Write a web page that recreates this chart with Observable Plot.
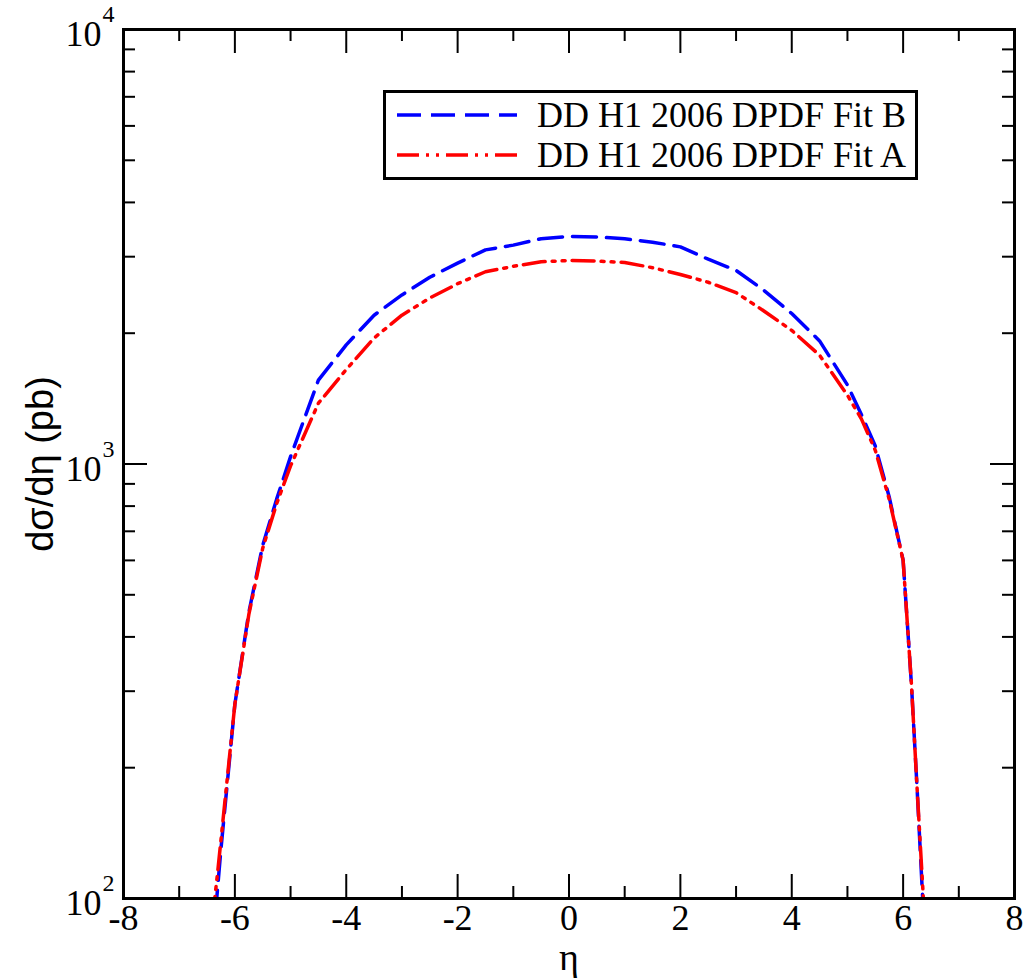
<!DOCTYPE html>
<html>
<head>
<meta charset="utf-8">
<script src="https://cdn.jsdelivr.net/npm/d3@7"></script>
<script src="https://cdn.jsdelivr.net/npm/@observablehq/plot@0.6"></script>
<style>
  body { margin: 0; background: #fff; }
  #wrap { position: relative; width: 1026px; height: 978px; }
</style>
</head>
<body>
<div id="wrap"></div>
<script>
// ---- data ----
const etaB = [-6.35, -6.25, -6.0, -5.75, -5.5, -5.25, -5.0, -4.5, -4.0, -3.5, -3.0, -2.5, -2.0, -1.5, -1.0, -0.5, 0, 0.5, 1.0, 1.5, 2.0, 2.5, 3.0, 3.5, 4.0, 4.5, 5.0, 5.25, 5.5, 5.75, 6.0, 6.15, 6.25, 6.36];
const fitB = [92, 130, 280, 455, 650, 830, 1040, 1560, 1880, 2200, 2450, 2690, 2900, 3110, 3190, 3300, 3340, 3330, 3300, 3240, 3160, 2960, 2790, 2510, 2220, 1920, 1520, 1300, 1100, 840, 600, 310, 180, 95];
const etaA = [-6.4, -6.3, -6.0, -5.75, -5.5, -5.25, -5.0, -4.5, -4.0, -3.5, -3.0, -2.5, -2.0, -1.5, -1.0, -0.5, 0, 0.5, 1.0, 1.5, 2.0, 2.5, 3.0, 3.5, 4.0, 4.5, 5.0, 5.25, 5.5, 5.75, 6.0, 6.15, 6.25, 6.38];
const fitA = [90, 118, 280, 450, 640, 810, 990, 1380, 1650, 1950, 2200, 2410, 2600, 2770, 2850, 2920, 2940, 2930, 2910, 2830, 2730, 2620, 2480, 2250, 2030, 1780, 1440, 1270, 1075, 830, 600, 310, 180, 92];
const seriesNames = ["DD H1 2006 DPDF Fit B", "DD H1 2006 DPDF Fit A"];
const xMajor = [-8, -6, -4, -2, 0, 2, 4, 6, 8];
const xMinor = [-7, -5, -3, -1, 1, 3, 5, 7];
const yMajor = [100, 1000, 10000];
const yMinor = [200, 300, 400, 500, 600, 700, 800, 900, 2000, 3000, 4000, 5000, 6000, 7000, 8000, 9000];
const xLabel = "η";
const yLabel = "dσ/dη (pb)";

const dataB = etaB.map((x, i) => ({x, y: fitB[i]}));
const dataA = etaA.map((x, i) => ({x, y: fitA[i]}));

const W = 1026, H = 978, mL = 123, mR = 12, mT = 29, mB = 80;
const iW = W - mL - mR, iH = H - mT - mB;
const serif = "Liberation Serif, Times New Roman, serif";
const sans = "Liberation Sans, Arial, sans-serif";
const blueDash = "24,10";
const redDash = "22,7,3,7,3,7";

const plot = Plot.plot({
  width: W, height: H,
  marginLeft: mL, marginRight: mR, marginTop: mT, marginBottom: mB,
  style: {background: "#fff"},
  x: {domain: [-8, 8], axis: null},
  y: {type: "log", domain: [100, 10000], axis: null},
  marks: [
    // curves
    Plot.line(dataB, {x: "x", y: "y", stroke: "#0000ff", strokeWidth: 3.5, strokeDasharray: blueDash, clip: true}),
    Plot.line(dataA, {x: "x", y: "y", stroke: "#ff0000", strokeWidth: 3.5, strokeDasharray: redDash, clip: true}),
    // inward ticks, bottom & top
    Plot.tickX(xMajor, {x: d => d, insetTop: iH - 24, stroke: "#000", strokeWidth: 2}),
    Plot.tickX(xMinor, {x: d => d, insetTop: iH - 12, stroke: "#000", strokeWidth: 2}),
    Plot.tickX(xMajor, {x: d => d, insetBottom: iH - 24, stroke: "#000", strokeWidth: 2}),
    Plot.tickX(xMinor, {x: d => d, insetBottom: iH - 12, stroke: "#000", strokeWidth: 2}),
    // inward ticks, left & right
    Plot.tickY(yMajor, {y: d => d, insetRight: iW - 24, stroke: "#000", strokeWidth: 2}),
    Plot.tickY(yMinor, {y: d => d, insetRight: iW - 12, stroke: "#000", strokeWidth: 2}),
    Plot.tickY(yMajor, {y: d => d, insetLeft: iW - 24, stroke: "#000", strokeWidth: 2}),
    Plot.tickY(yMinor, {y: d => d, insetLeft: iW - 12, stroke: "#000", strokeWidth: 2}),
    Plot.frame({stroke: "#000", strokeWidth: 3}),
    // x tick labels
    Plot.text(xMajor, {x: d => d, text: d => String(d), frameAnchor: "bottom", lineAnchor: "middle", dy: 20, fontSize: 36, fontFamily: serif, fill: "#000"}),
    // y tick labels 10^n
    Plot.text(yMajor, {y: d => d, text: () => "10", frameAnchor: "left", textAnchor: "end", dx: -22, dy: 5, fontSize: 36, fontFamily: serif, fill: "#000"}),
    Plot.text(yMajor, {y: d => d, text: d => String(Math.round(Math.log10(d))), frameAnchor: "left", textAnchor: "start", dx: -21, dy: -15, fontSize: 24, fontFamily: serif, fill: "#000"}),
    // axis labels
    Plot.text([xLabel], {text: d => d, frameAnchor: "bottom", lineAnchor: "middle", dy: 59, fontSize: 38, fontFamily: serif, fill: "#000"}),
    Plot.text([yLabel], {text: d => d, frameAnchor: "left", textAnchor: "middle", dx: -83, rotate: -90, fontSize: 38, fontFamily: sans, fill: "#000"})
  ]
});

// make sure the text font settings win over any stylesheet
d3.select(plot).selectAll("g[aria-label='text']").each(function () {
  const fam = this.getAttribute("font-family");
  const size = this.getAttribute("font-size");
  d3.select(this).selectAll("text").each(function () {
    if (fam) this.style.fontFamily = fam;
    if (size) this.style.fontSize = (/^\d+(\.\d+)?$/.test(size) ? size + "px" : size);
  });
});

const wrap = document.getElementById("wrap");
wrap.appendChild(plot);

// legend
const lg = d3.create("svg").attr("width", 535).attr("height", 90)
  .style("position", "absolute").style("left", "383px").style("top", "90px");
lg.append("rect").attr("x", 1.5).attr("y", 1.5).attr("width", 532).attr("height", 87)
  .attr("fill", "#fff").attr("stroke", "#000").attr("stroke-width", 3);
const rows = [
  {name: seriesNames[0], color: "#0000ff", dash: blueDash, y: 25},
  {name: seriesNames[1], color: "#ff0000", dash: redDash, y: 65}
];
for (const r of rows) {
  lg.append("line").attr("x1", 14).attr("x2", 134).attr("y1", r.y).attr("y2", r.y)
    .attr("stroke", r.color).attr("stroke-width", 3.5).attr("stroke-dasharray", r.dash);
  lg.append("text").attr("x", 154).attr("y", r.y + 12).text(r.name)
    .style("font-family", serif).style("font-size", "36px").attr("fill", "#000");
}
wrap.appendChild(lg.node());
</script>
</body>
</html>
